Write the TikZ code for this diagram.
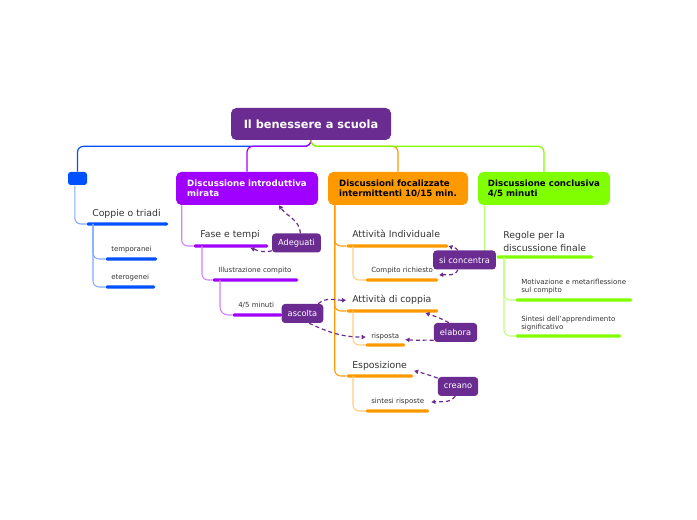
\documentclass[tikz,border=0pt]{standalone}
\usepackage{fontspec}
\setmainfont{DejaVu Sans}
\usetikzlibrary{positioning, arrows.meta, calc}
\definecolor{mapPlum}{HTML}{6A2C91}
\definecolor{mapBlue}{HTML}{0050FF}
\definecolor{mapViolet}{HTML}{A000FF}
\definecolor{mapOrange}{HTML}{FF9900}
\definecolor{mapGreen}{HTML}{80FF00}
\definecolor{mapInk}{HTML}{333333}

\begin{document}
\begin{tikzpicture}[
  x=0.75pt, y=-0.75pt,
  root/.style = {rectangle, fill=mapPlum, rounded corners=4pt,
                 minimum width=120pt, minimum height=24pt, text=white,
                 font=\fontsize{8.5}{10}\selectfont\bfseries},
  main/.style = {rectangle, fill=#1, rounded corners=4pt, inner sep=0pt,
                 minimum height=24.75pt, align=left,
                 font=\fontsize{6.5}{7.8}\selectfont\bfseries},
  bar/.style = {rectangle, fill=#1, rounded corners=1.3pt, anchor=west,
                minimum height=2.6pt, inner sep=0pt},
  topic/.style = {anchor=base west, inner sep=0pt, text=mapInk,
                  font=\fontsize{7}{9.5}\selectfont, align=left},
  subtopic/.style = {anchor=base west, inner sep=0pt, text=mapInk,
                     font=\fontsize{5.25}{6.3}\selectfont, align=left},
  tag/.style = {rectangle, fill=mapPlum, rounded corners=2.5pt, text=white,
                inner xsep=4.5pt, inner ysep=0pt, minimum height=14.25pt,
                font=\fontsize{6.2}{7}\selectfont},
  link/.style = {draw=#1, line width=0.8pt, rounded corners=4.5pt},
  rel/.style = {mapPlum, line width=0.9pt, dash pattern=on 3pt off 2.2pt,
                -{Triangle[length=3pt, width=3.2pt]}},
]
\useasboundingbox (0,0) rectangle (697,520);

% Root and main topics
\node[root] (root) at (311,124) {Il benessere a scuola};
\node[rectangle, fill=mapBlue, rounded corners=2pt, minimum width=14.25pt,
      minimum height=9.75pt, inner sep=0pt] (bbox) at (77.5,178.5) {};
\node[main=mapViolet, minimum width=106.5pt, text=white] (vmain) at (247,188.5)
      {Discussione introduttiva\\mirata};
\node[main=mapOrange, minimum width=105pt] (omain) at (398,188.5)
      {Discussioni focalizzate\\intermittenti 10/15 min.};
\node[main=mapGreen, minimum width=99pt] (gmain) at (544,188.5)
      {Discussione conclusiva\\4/5 minuti};

% Root connectors
\draw[link=mapBlue, line width=0.9pt] (root.south) -- ++(0,6) -| (bbox.north);
\draw[link=mapViolet, line width=0.9pt] (root.south) -- ++(0,6) -| (vmain.north);
\draw[link=mapOrange, line width=0.9pt] (root.south) -- ++(0,6) -| (omain.north);
\draw[link=mapGreen, line width=0.9pt] (root.south) -- ++(0,6) -| (gmain.north);

% Bars
\node[bar=mapBlue, minimum width=61.5pt] (coppieBar) at (86,224) {};
\node[bar=mapBlue, minimum width=39pt]   (tempBar)   at (105,259) {};
\node[bar=mapBlue, minimum width=37.5pt] (eteroBar)  at (105,287) {};
\node[bar=mapViolet, minimum width=56.25pt] (faseBar) at (193,246) {};
\node[bar=mapViolet, minimum width=64.5pt]  (illBar)  at (212,280) {};
\node[bar=mapViolet, minimum width=37.5pt]  (minBar)  at (232,315) {};
\node[bar=mapOrange, minimum width=76.5pt]  (attIndBar) at (346,246) {};
\node[bar=mapOrange, minimum width=54.75pt] (compBar)   at (365,280) {};
\node[bar=mapOrange, minimum width=69pt]    (attCopBar) at (346,311) {};
\node[bar=mapOrange, minimum width=30pt]    (rispBar)   at (365,345) {};
\node[bar=mapOrange, minimum width=50.25pt] (espBar)    at (346,376) {};
\node[bar=mapOrange, minimum width=48pt]    (sintRBar)  at (365,411) {};
\node[bar=mapGreen, minimum width=72.75pt] (regoleBar) at (496,257) {};
\node[bar=mapGreen, minimum width=87.75pt] (motivBar)  at (515,300) {};
\node[bar=mapGreen, minimum width=79.5pt]  (sintABar)  at (515,336) {};

% Texts
\node[topic] (coppie) at (92,217) {Coppie o triadi};
\node[subtopic] (temp)  at (111,252) {temporanei};
\node[subtopic] (etero) at (111,280) {eterogenei};
\node[topic] (fase) at (200,238) {Fase e tempi};
\node[subtopic] (ill) at (218,273) {Illustrazione compito};
\node[subtopic] (minuti) at (238,308) {4/5 minuti};
\node[topic] (attInd) at (352,238) {Attività Individuale};
\node[subtopic] (comp) at (371,273) {Compito richiesto};
\node[topic] (attCop) at (352,303) {Attività di coppia};
\node[subtopic] (risp) at (371,339) {risposta};
\node[topic] (esp) at (352,369) {Esposizione};
\node[subtopic] (sintR) at (371,404) {sintesi risposte};
\node[topic, anchor=north west] (regole) at (503,231)
      {Regole per la\\discussione finale};
\node[subtopic, anchor=north west] (motiv) at (521,279)
      {Motivazione e metariflessione\\sul compito};
\node[subtopic, anchor=north west] (sintA) at (521,316)
      {Sintesi dell'apprendimento\\significativo};

% Branch connectors
\draw[link=mapBlue!50] ([xshift=-2pt]bbox.south) |- (coppieBar.west);
\draw[link=mapBlue!50] ([xshift=5.25pt]coppieBar.west) |- (tempBar.west);
\draw[link=mapBlue!50] ([xshift=5.25pt]coppieBar.west) |- (eteroBar.west);
\draw[link=mapViolet!50] ([xshift=4.5pt]vmain.south west) |- (faseBar.west);
\draw[link=mapViolet!50] ([xshift=6.75pt]faseBar.west) |- (illBar.west);
\draw[link=mapViolet!50, rounded corners=6pt] ([xshift=6pt]illBar.west) |- (minBar.west);
\draw[link=mapOrange] ([xshift=5.25pt]omain.south west) |- (attIndBar.west);
\draw[link=mapOrange] ([xshift=5.25pt]omain.south west) |- (attCopBar.west);
\draw[link=mapOrange] ([xshift=5.25pt]omain.south west) |- (espBar.west);
\draw[link=mapOrange!50] ([xshift=5.25pt]attIndBar.west) |- (compBar.west);
\draw[link=mapOrange!50] ([xshift=5.25pt]attCopBar.west) |- (rispBar.west);
\draw[link=mapOrange!50] ([xshift=5.25pt]espBar.west) |- (sintRBar.west);
\draw[link=mapGreen!50] ([xshift=5.25pt]gmain.south west) |- (regoleBar.west);
\draw[link=mapGreen!50] ([xshift=6pt]regoleBar.west) |- (motivBar.west);
\draw[link=mapGreen!50] ([xshift=6pt]regoleBar.west) |- (sintABar.west);

% Tags
\node[tag] (adeg) at (296.5,243)   {Adeguati};
\node[tag] (asc)  at (302.5,313.5) {ascolta};
\node[tag] (conc) at (464.5,260)   {si concentra};
\node[tag] (elab) at (455.5,332.5) {elabora};
\node[tag] (crea) at (458,386.5)   {creano};

% Relations
\draw[rel] ([xshift=3pt]adeg.north) to[out=95, in=-55] ([xshift=24pt]vmain.south);
\draw[rel] ([yshift=1.5pt]adeg.south west) to[out=195, in=-20]
      ([xshift=-13.5pt, yshift=-1.5pt]faseBar.east);
\draw[rel] ([xshift=-4pt]asc.north east) to[out=40, in=180]
      ([xshift=-4.5pt]attCop.west);
\draw[rel] ([xshift=5pt]asc.south) to[out=-25, in=180] ([xshift=-4pt]risp.west);
\draw[rel] ([xshift=-5pt]conc.north) to[out=125, in=-20] (attIndBar.east);
\draw[rel] ([xshift=-5pt]conc.south) to[out=-110, in=5]
      ([xshift=4.5pt, yshift=-3pt]comp.east);
\draw[rel] ([xshift=-5pt]elab.north) to[out=150, in=-20]
      ([xshift=-9.75pt, yshift=-1.5pt]attCopBar.east);
\draw[rel] ([yshift=1.5pt]elab.south west) to[out=178, in=-5]
      ([xshift=4.5pt, yshift=-1.9pt]risp.east);
\draw[rel] ([yshift=-1pt]crea.north west) to[out=160, in=-15]
      ([xshift=5.25pt, yshift=-3.3pt]esp.east);
\draw[rel] ([xshift=-2pt]crea.south) to[out=-130, in=5]
      ([xshift=5.25pt]sintR.east);

\end{tikzpicture}
\end{document}
